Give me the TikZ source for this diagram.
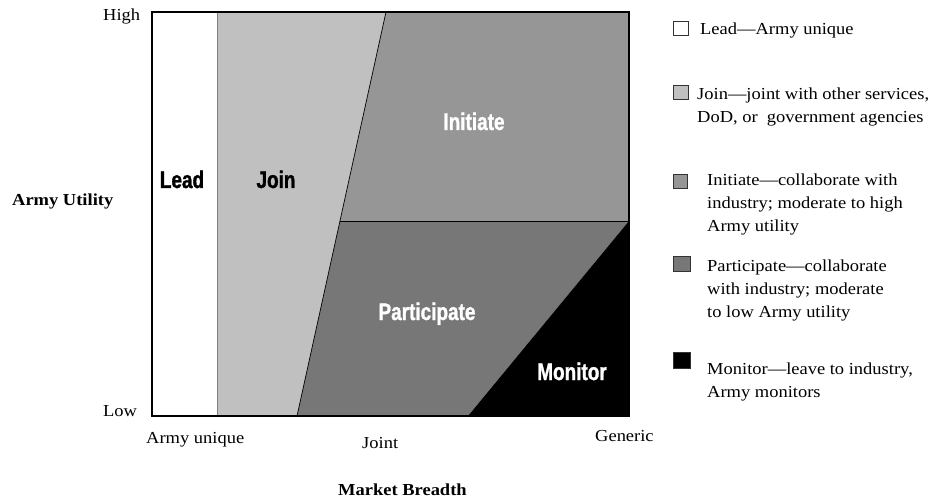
\documentclass[tikz,border=0pt]{standalone}
\usepackage{fontspec}
\setmainfont{Liberation Serif}[FakeStretch=1.1]
\newfontfamily\regionfont{Liberation Sans}[FakeStretch=0.79, FakeBold=1.2]
\usetikzlibrary{calc}
\tikzset{
  axislabel/.style={font=\fontsize{16.8}{23}\selectfont, inner sep=0pt, anchor=base west},
  axistitle/.style={font=\fontsize{16.8}{23}\selectfont\bfseries, inner sep=0pt, anchor=base west},
  regionlabel/.style={font=\regionfont\bfseries\fontsize{24}{24}\selectfont, inner sep=0pt, anchor=base},
  legbox/.style={draw=black!80, line width=0.8pt, inner sep=0pt, minimum width=15pt, minimum height=14pt},
  legtext/.style={font=\fontsize{16.8}{23}\selectfont, align=left, inner sep=0pt, anchor=base west},
}
\definecolor{joingray}{HTML}{C0C0C0}
\definecolor{initgray}{HTML}{969696}
\definecolor{partgray}{HTML}{777777}
\begin{document}
\begin{tikzpicture}[x=1pt, y=-1pt]
            \useasboundingbox (0,0) rectangle (935,500);

            \coordinate (tl) at (152,12);
            \coordinate (tr) at (629,12);
            \coordinate (bl) at (152,416);
            \coordinate (br) at (629,416);
            \coordinate (lt) at (217,12);
            \coordinate (lb) at (217,416);
            \coordinate (jt) at (386,12);
            \coordinate (jb) at (297,416);
            \coordinate (jm) at (340,221);
            \coordinate (rm) at (629,221);
            \coordinate (mb) at (468,416);

            \fill[white] (tl) rectangle (lb);
            \fill[joingray] (lt) -- (jt) -- (jb) -- (lb) -- cycle;
            \fill[initgray] (jt) -- (tr) -- (rm) -- (jm) -- cycle;
            \fill[partgray] (jm) -- (rm) -- (mb) -- (jb) -- cycle;
            \fill[black] (rm) -- (br) -- (mb) -- cycle;

            \draw[black!50, line width=1pt] (lt) -- (lb);
            \draw[black, line width=0.7pt] (jt) -- (jb);
            \draw[black, line width=1pt] (jm) -- (rm);
            \draw[black, line width=1.3pt] (tl) rectangle (br);

            \node[regionlabel] (lead) at (182,188) {Lead};
            \node[regionlabel] (join) at (276,188) {Join};
            \node[regionlabel, text=white] (initiate) at (474,130) {Initiate};
            \node[regionlabel, text=white] (participate) at (427,320) {Participate};
            \node[regionlabel, text=white] (monitor) at (572,380) {Monitor};

            \node[axislabel] (high) at (103,21) {High};
            \node[axislabel] (low) at (103,416) {Low};
            \node[axistitle] (utility) at (12,205) {Army Utility};
            \node[axislabel] (unique) at (146,443) {Army unique};
            \node[axislabel] (joint) at (362,448) {Joint};
            \node[axislabel] (generic) at (595,441) {Generic};
            \node[axistitle] (breadth) at (338,495) {Market Breadth};

            \node[legbox, fill=white] (lgLead) at (681,28.5) {};
            \node[legbox, fill=joingray] (lgJoin) at (681,92.5) {};
            \node[legbox, fill=initgray, minimum width=14pt] (lgInit) at (680,181) {};
            \node[legbox, fill=partgray, minimum width=17pt, minimum height=15pt] (lgPart) at (681.5,263.5) {};
            \node[legbox, fill=black, minimum width=17pt, minimum height=16pt] (lgMon) at (681.5,360) {};

            \node[legtext] (txLead) at (700,35) {Lead---Army unique};
            \node[legtext] (txJoin) at (697,123) {Join---joint with other services,\\DoD, or\ \ government agencies};
            \node[legtext] (txInit) at (707,231) {Initiate---collaborate with\\industry; moderate to high\\Army utility};
            \node[legtext] (txPart) at (707,317) {Participate---collaborate\\with industry; moderate\\to low Army utility};
            \node[legtext] (txMon) at (707,397) {Monitor---leave to industry,\\Army monitors};
        \end{tikzpicture}
\end{document}
